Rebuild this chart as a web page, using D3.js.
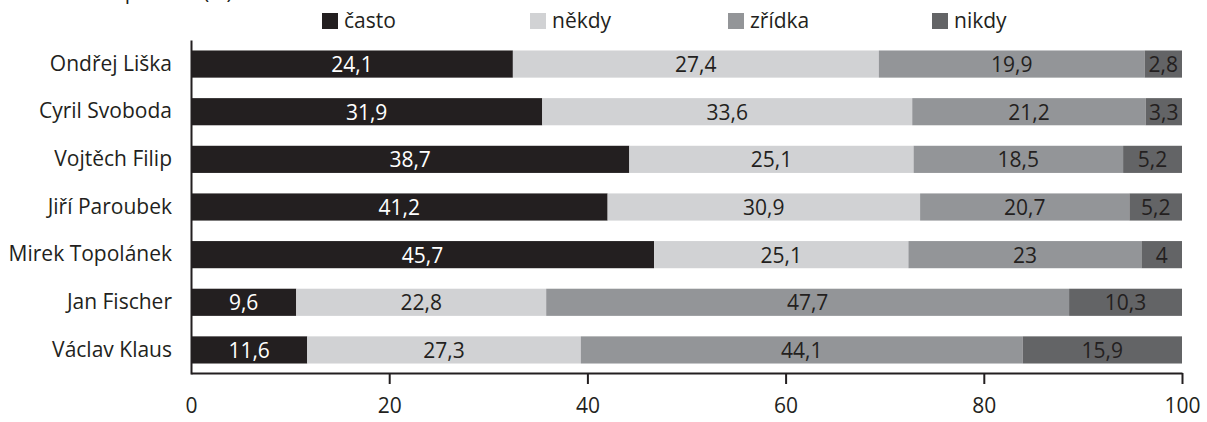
<!DOCTYPE html>
<html lang="cs">
<head>
<meta charset="utf-8">
<script src="https://d3js.org/d3.v7.min.js"></script>
<style>
  body { margin: 0; background: #fff; }
  svg text { font-family: "Open Sans", sans-serif; fill: #231f20; }
  .domain { stroke: #231f20; stroke-width: 2; }
  .tick line { stroke: #231f20; stroke-width: 2; }
</style>
</head>
<body>
<svg width="1207" height="422"></svg>
<script>
  // chart data (rows top to bottom)
  const politicians = ['Ondřej Liška', 'Cyril Svoboda', 'Vojtěch Filip', 'Jiří Paroubek',
                       'Mirek Topolánek', 'Jan Fischer', 'Václav Klaus'];
  const casto  = [24.1, 31.9, 38.7, 41.2, 45.7, 9.6, 11.6];
  const nekdy  = [27.4, 33.6, 25.1, 30.9, 25.1, 22.8, 27.3];
  const zridka = [19.9, 21.2, 18.5, 20.7, 23, 47.7, 44.1];
  const nikdy  = [2.8, 3.3, 5.2, 5.2, 4, 10.3, 15.9];
  const seriesNames = ['často', 'někdy', 'zřídka', 'nikdy'];
  const colors = ['#231f20', '#d1d2d4', '#939598', '#636466'];
  const labelColors = ['#ffffff', '#231f20', '#231f20', '#231f20'];
  const xTicks = [0, 20, 40, 60, 80, 100];

  const margin = { left: 191, right: 25, top: 40, bottom: 48 };
  const svg = d3.select('svg');
  const width = +svg.attr('width');
  const height = +svg.attr('height');
  const innerWidth = width - margin.left - margin.right;
  const innerHeight = height - margin.top - margin.bottom;

  const rows = politicians.map((name, i) => ({
    name: name, často: casto[i], někdy: nekdy[i], zřídka: zridka[i], nikdy: nikdy[i]
  }));

  // bars are shown as shares of the answered total
  const stack = d3.stack().keys(seriesNames).offset(d3.stackOffsetExpand);
  const layers = stack(rows);

  const x = d3.scaleLinear().domain([0, 100]).range([0, innerWidth]);
  const y = d3.scaleBand().domain(politicians).range([0, innerHeight])
    .paddingInner(0.43).paddingOuter(0.22);

  // cut-off heading at the very top
  svg.append('text')
    .attr('x', 0).attr('y', -1)
    .style('font-size', '21px')
    .text('Sledovanost politiků (%)');

  const g = svg.append('g')
    .attr('transform', `translate(${margin.left},${margin.top})`);

  const layerG = g.selectAll('.layer').data(layers)
    .enter().append('g')
      .attr('class', 'layer')
      .attr('fill', (d, i) => colors[i]);

  layerG.selectAll('rect').data(d => d)
    .enter().append('rect')
      .attr('x', d => x(d[0] * 100))
      .attr('y', d => y(d.data.name))
      .attr('width', d => x(d[1] * 100) - x(d[0] * 100))
      .attr('height', y.bandwidth());

  layerG.each(function (layer, li) {
    d3.select(this).selectAll('text').data(layer)
      .enter().append('text')
        .attr('x', d => x((d[0] + d[1]) * 50))
        .attr('y', d => y(d.data.name) + y.bandwidth() / 2 + 8)
        .attr('text-anchor', 'middle')
        .style('font-size', '21px')
        .style('fill', labelColors[li])
        .text(d => String(d.data[layer.key]).replace('.', ','));
  });

  const xAxisG = g.append('g')
    .attr('transform', `translate(0,${innerHeight - 1})`)
    .call(d3.axisBottom(x).tickValues(xTicks).tickSize(11).tickSizeOuter(0).tickPadding(14));
  xAxisG.selectAll('.tick text').style('font-size', '21px');
  xAxisG.selectAll('.tick').filter(d => d === 0).select('line').remove();

  const yAxisG = g.append('g')
    .call(d3.axisLeft(y).tickSize(0).tickSizeOuter(0).tickPadding(19));
  yAxisG.selectAll('.tick text').style('font-size', '21px');

  // legend
  const legendX = [322, 530, 728, 932];
  const legend = svg.selectAll('.legend').data(seriesNames)
    .enter().append('g')
      .attr('class', 'legend')
      .attr('transform', (d, i) => `translate(${legendX[i]},13)`);
  legend.append('rect')
    .attr('width', 16).attr('height', 16)
    .attr('fill', (d, i) => colors[i]);
  legend.append('text')
    .attr('x', 22).attr('y', 15)
    .style('font-size', '21px')
    .text(d => d);
</script>
</body>
</html>
